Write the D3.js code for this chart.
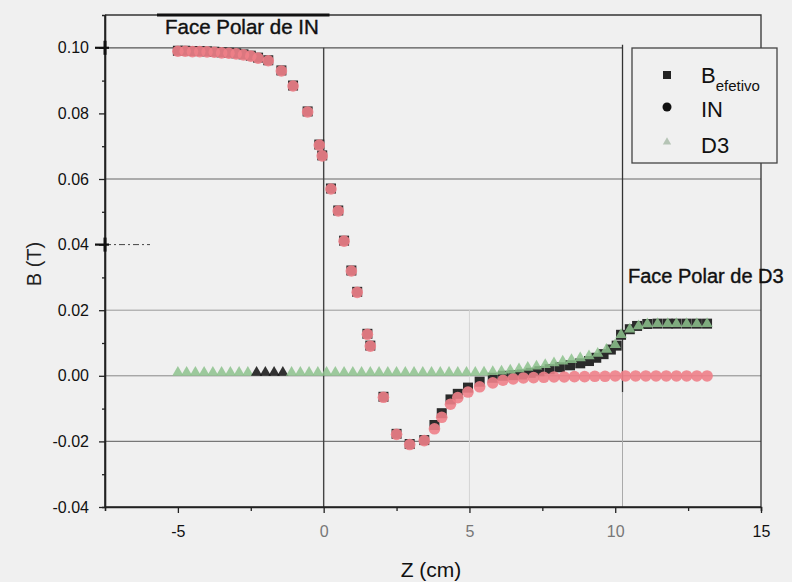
<!DOCTYPE html>
<html><head><meta charset="utf-8">
<script src="https://cdn.jsdelivr.net/npm/d3@7"></script>
<style>
html,body{margin:0;padding:0;background:#f0f0f0;}
svg{display:block;font-family:"Liberation Sans",Arial,sans-serif;}
</style></head>
<body><svg id="chart" width="792" height="582"></svg>
<script>
// ---- data ----
const zEfetivo = [-5.0,-4.75,-4.5,-4.25,-4.0,-3.75,-3.5,-3.25,-3.0,-2.75,-2.5,-2.25,-1.9,-1.45,-1.05,-0.55,-0.15,-0.05,0.25,0.5,0.7,0.95,1.15,1.5,1.6,2.05,2.5,2.95,3.45,3.8,4.05,4.35,4.6,4.95,5.35,5.8,6.15,6.5,6.8,7.1,7.4,7.75,8.1,8.45,8.8,9.1,9.35,9.6,9.85,10.05,10.2,10.5,10.75,11.1,11.45,11.8,12.1,12.45,12.8,13.15];
const bEfetivo = [0.0991,0.0991,0.0990,0.0990,0.0989,0.0988,0.0986,0.0985,0.0983,0.0980,0.0976,0.0970,0.0962,0.0931,0.0885,0.0806,0.0705,0.0672,0.0571,0.0504,0.0412,0.0321,0.0256,0.0128,0.0092,-0.0064,-0.0177,-0.0208,-0.0196,-0.0150,-0.0114,-0.0072,-0.0055,-0.0036,-0.0018,-0.0006,0.0000,0.0002,0.0004,0.0009,0.0014,0.0020,0.0026,0.0032,0.0038,0.0045,0.0055,0.0066,0.0080,0.0092,0.0125,0.0142,0.0152,0.0158,0.0159,0.0159,0.0159,0.0159,0.0159,0.0159];

const zIN = [-5.0,-4.75,-4.5,-4.25,-4.0,-3.75,-3.5,-3.25,-3.0,-2.75,-2.5,-2.25,-1.9,-1.45,-1.05,-0.55,-0.15,-0.05,0.25,0.5,0.7,0.95,1.15,1.5,1.6,2.05,2.5,2.95,3.45,3.8,4.05,4.35,4.6,4.95,5.35,5.8,6.15,6.5,6.85,7.2,7.55,7.9,8.25,8.6,8.95,9.3,9.65,10.0,10.35,10.7,11.05,11.4,11.75,12.1,12.45,12.8,13.15];
const bIN = [0.0991,0.0991,0.0990,0.0990,0.0989,0.0988,0.0986,0.0985,0.0983,0.0980,0.0976,0.0970,0.0962,0.0931,0.0885,0.0806,0.0705,0.0672,0.0571,0.0504,0.0412,0.0321,0.0256,0.0128,0.0092,-0.0064,-0.0177,-0.0208,-0.0196,-0.0160,-0.0125,-0.0085,-0.0065,-0.0048,-0.0032,-0.0020,-0.0012,-0.0008,-0.0005,-0.0004,-0.0003,-0.0002,-0.0002,-0.0001,-0.0001,0.0000,0.0000,0.0001,0.0001,0.0001,0.0001,0.0001,0.0001,0.0001,0.0001,0.0001,0.0001];

const zD3 = [-5.0,-4.7,-4.4,-4.1,-3.8,-3.5,-3.2,-2.9,-2.6,-2.3,-2.0,-1.7,-1.4,-1.1,-0.8,-0.5,-0.2,0.1,0.4,0.7,1.0,1.3,1.6,1.9,2.2,2.5,2.8,3.1,3.4,3.7,4.0,4.3,4.6,4.9,5.2,5.5,5.8,6.1,6.4,6.7,7.0,7.3,7.6,7.9,8.2,8.5,8.8,9.1,9.4,9.7,10.0,10.2,10.5,10.8,11.1,11.45,11.8,12.1,12.45,12.8,13.15];
const bD3 = [0.0010,0.0010,0.0010,0.0010,0.0010,0.0010,0.0010,0.0010,0.0010,0.0010,0.0010,0.0010,0.0010,0.0010,0.0010,0.0010,0.0010,0.0010,0.0010,0.0010,0.0010,0.0010,0.0010,0.0010,0.0010,0.0010,0.0010,0.0010,0.0010,0.0010,0.0010,0.0010,0.0010,0.0010,0.0010,0.0011,0.0012,0.0014,0.0017,0.0021,0.0025,0.0029,0.0034,0.0039,0.0044,0.0049,0.0054,0.0060,0.0068,0.0080,0.0095,0.0125,0.0142,0.0152,0.0158,0.0159,0.0159,0.0159,0.0159,0.0159,0.0159];

const xTicks = [-5, 0, 5, 10, 15];
const xMinor = [-2.5, 2.5, 7.5, 12.5];
const yTicks = [-0.04, -0.02, 0.00, 0.02, 0.04, 0.06, 0.08, 0.10];
const yMinor = [-0.03, -0.01, 0.01, 0.03, 0.05, 0.07, 0.09];
const legendItems = ["B", "IN", "D3"];
const annotIN = "Face Polar de IN";
const annotD3 = "Face Polar de D3";
const facePolarD3Z = 10.25;

// ---- chart ----
const svg = d3.select("#chart");
const W = 792, H = 582;
const pL = 105, pR = 761, pT = 15, pB = 507;
const x = d3.scaleLinear().domain([-7.5, 15]).range([pL, pR]);
const y = d3.scaleLinear().domain([-0.04, 0.11]).range([pB, pT]);
const fmt = v => d3.format(".2f")(v).replace("\u2212", "-");

svg.append("rect").attr("width", W).attr("height", H).attr("fill", "#f0f0f0");

const g = svg.append("g");
const hGrid = [
  {v: 0.10, x2: x(facePolarD3Z), c: "#555", w: 1.3},
  {v: 0.06, x2: pR, c: "#666", w: 1.2},
  {v: 0.02, x2: pR, c: "#999", w: 1},
  {v: 0.00, x2: pR, c: "#888", w: 1},
  {v: -0.02, x2: pR, c: "#777", w: 1.1}
];
g.selectAll(".hg").data(hGrid).join("line")
  .attr("x1", pL).attr("x2", d => d.x2)
  .attr("y1", d => y(d.v)).attr("y2", d => y(d.v))
  .attr("stroke", d => d.c).attr("stroke-width", d => d.w);
g.append("line").attr("x1", pL).attr("x2", pL + 45)
  .attr("y1", y(0.04)).attr("y2", y(0.04))
  .attr("stroke", "#444").attr("stroke-dasharray", "6,3,2,3");
g.append("line").attr("x1", x(5)).attr("x2", x(5))
  .attr("y1", y(0.02)).attr("y2", pB).attr("stroke", "#d4d4d4");
g.append("line").attr("x1", x(0)).attr("x2", x(0))
  .attr("y1", y(0.10)).attr("y2", pB).attr("stroke", "#444").attr("stroke-width", 1.4);
g.append("line").attr("x1", x(facePolarD3Z)).attr("x2", x(facePolarD3Z))
  .attr("y1", y(0.10) - 3).attr("y2", y(-0.005)).attr("stroke", "#333").attr("stroke-width", 1.3);
g.append("line").attr("x1", x(facePolarD3Z)).attr("x2", x(facePolarD3Z))
  .attr("y1", y(-0.005)).attr("y2", pB).attr("stroke", "#aaa").attr("stroke-width", 1);

g.append("path").attr("d", `M${pL},${pT}H${pR}V${pB}`)
  .attr("fill", "none").attr("stroke", "#333").attr("stroke-width", 1.3);
g.append("line").attr("x1", 157).attr("x2", x(0.2)).attr("y1", pT).attr("y2", pT)
  .attr("stroke", "#111").attr("stroke-width", 3);

const axL = svg.append("g").attr("transform", `translate(${pL},0)`)
  .call(d3.axisLeft(y).tickValues(yTicks).tickFormat(fmt).tickSize(6).tickPadding(10));
const axLm = svg.append("g").attr("transform", `translate(${pL},0)`)
  .call(d3.axisLeft(y).tickValues(yMinor).tickFormat("").tickSize(3));
const axB = svg.append("g").attr("transform", `translate(0,${pB})`)
  .call(d3.axisBottom(x).tickValues(xTicks).tickFormat(d3.format("d")).tickSize(6).tickPadding(13));
const axBm = svg.append("g").attr("transform", `translate(0,${pB})`)
  .call(d3.axisBottom(x).tickValues(xMinor).tickFormat("").tickSize(4));
[axL, axLm, axB, axBm].forEach(a => {
  a.select(".domain").attr("stroke", "#222").attr("stroke-width", 1.6);
  a.selectAll(".tick line").attr("stroke", "#222").attr("stroke-width", 1.3);
  a.selectAll("text").attr("fill", "#111").style("font-size", "16px")
    .style("font-family", "'Liberation Sans', Arial, sans-serif");
});
axB.selectAll(".domain").attr("d", `M${pL},0H${pR}`);
axL.selectAll(".domain").attr("d", `M0,${pT}V${pB}`);
axB.selectAll(".tick text").attr("fill", d => (d === 0 || d === 5 || d === 10) ? "#777" : "#111")
  .attr("text-anchor", "middle").text(d => d < 0 ? "-" + Math.abs(d) : d);
[0.10, 0.04].forEach(v => {
  svg.append("line").attr("x1", pL - 10).attr("x2", pL + 4).attr("y1", y(v)).attr("y2", y(v))
    .attr("stroke", "#111").attr("stroke-width", 2.2);
  svg.append("line").attr("x1", pL).attr("x2", pL).attr("y1", y(v) - 7).attr("y2", y(v) + 7)
    .attr("stroke", "#111").attr("stroke-width", 3);
});

svg.append("text").attr("x", 431).attr("y", 577)
  .attr("text-anchor", "middle").style("font-size", "21px").attr("fill", "#111").text("Z (cm)");
svg.append("text").attr("transform", `translate(41,264) rotate(-90)`)
  .attr("text-anchor", "middle").style("font-size", "20px").attr("fill", "#222").text("B (T)");

svg.append("text").attr("x", 165).attr("y", 34).style("font-size", "20.5px")
  .attr("fill", "#111").attr("stroke", "#111").attr("stroke-width", 0.4).text(annotIN);
svg.append("text").attr("x", 628).attr("y", 283).style("font-size", "20px")
  .attr("fill", "#111").attr("stroke", "#111").attr("stroke-width", 0.4).text(annotD3);

// ---- marks ----
const efData = zEfetivo.map((z, i) => ({z, b: bEfetivo[i]}));
const inData = zIN.map((z, i) => ({z, b: bIN[i]}));
const d3Data = zD3.map((z, i) => ({z, b: bD3[i]}));
const sq = 10;
const marks = svg.append("g");
marks.selectAll(".ef").data(efData).join("rect")
  .attr("x", d => x(d.z) - sq / 2).attr("y", d => y(d.b) - sq / 2)
  .attr("width", sq).attr("height", sq).attr("fill", "#2a2a2a");
marks.selectAll(".in").data(inData).join("circle")
  .attr("cx", d => x(d.z)).attr("cy", d => y(d.b) + 0.5).attr("r", 5.8)
  .attr("fill", "#ee8088").attr("fill-opacity", 0.9);
const tri = d3.symbol().type(d3.symbolTriangle).size(55);
marks.selectAll(".d3").data(d3Data).join("path")
  .attr("d", tri)
  .attr("transform", d => `translate(${x(d.z)},${y(d.b)})`)
  .attr("fill", d => (d.z >= -2.4 && d.z <= -1.3) ? "#111" : "#8dc28d")
  .attr("fill-opacity", 0.85);

// ---- legend ----
const lg = svg.append("g");
lg.append("rect").attr("x", 632).attr("y", 48).attr("width", 145).attr("height", 115)
  .attr("fill", "#f0f0f0").attr("stroke", "#444").attr("stroke-width", 1.3);
lg.append("rect").attr("x", 663).attr("y", 71).attr("width", 8).attr("height", 8).attr("fill", "#222");
lg.append("circle").attr("cx", 667).attr("cy", 107).attr("r", 4.5).attr("fill", "#111");
lg.append("path").attr("d", d3.symbol().type(d3.symbolTriangle).size(30))
  .attr("transform", "translate(667,142)").attr("fill", "#b5c4b5");
const bt = lg.append("text").attr("x", 701).attr("y", 83).style("font-size", "22px").attr("fill", "#111");
bt.append("tspan").text(legendItems[0]);
bt.append("tspan").attr("dy", 8).style("font-size", "15px").text("efetivo");
lg.append("text").attr("x", 701).attr("y", 117).style("font-size", "22px").attr("fill", "#111").text(legendItems[1]);
lg.append("text").attr("x", 701).attr("y", 153).style("font-size", "22px").attr("fill", "#111").text(legendItems[2]);
</script></body></html>
